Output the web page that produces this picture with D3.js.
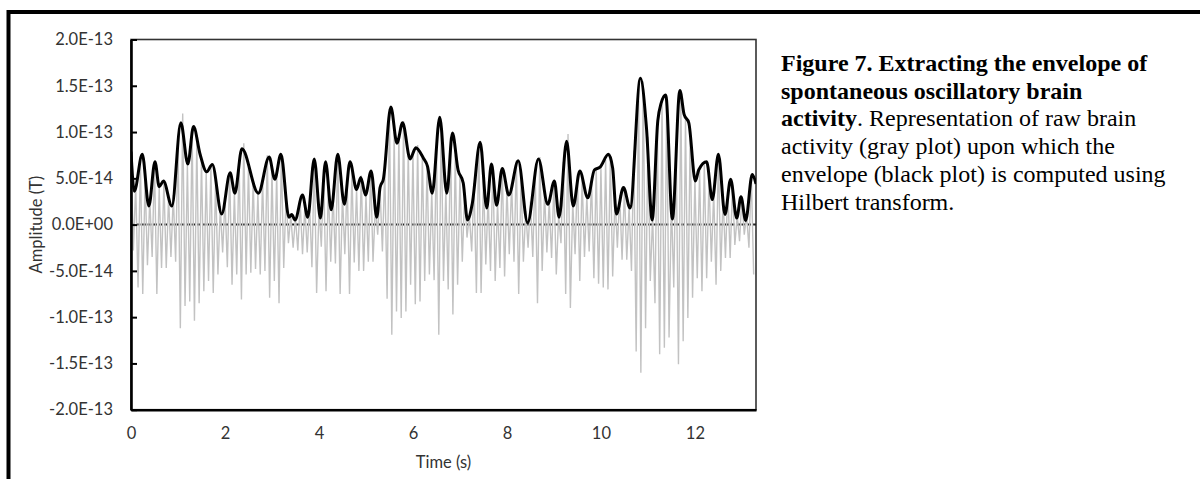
<!DOCTYPE html>
<html>
<head>
<meta charset="utf-8">
<script src="https://cdn.jsdelivr.net/npm/d3@7"></script>
<style>
  html, body { margin: 0; padding: 0; background: #fff; }
  svg { display: block; }
</style>
</head>
<body>
<svg id="chart" width="1200" height="479"></svg>
<script>
// ---------------- DATA (amplitudes in units of 1e-14 T) ----------------
const UNIT = 1e-14;
const SAMPLE_STEP = 0.1;           // one raw oscillation cycle every 0.1 s (≈10 Hz)

// Raw signal: positive peaks (at t = 0, 0.1, 0.2, ...)
const rawPeaks = [
  7.5, 4.3, 6.8, 5.0, 2.8, 6.6, 4.0, 4.6, 3.0, 3.2,
  9.0, 12.0, 6.5, 10.3, 9.0, 7.0, 5.7, 6.4, 4.8, 2.0,
  2.8, 5.6, 3.5, 7.0, 8.8, 6.2, 4.8, 3.4, 4.8, 7.5,
  5.8, 5.5, 7.6, 3.2, 1.0, 0.8, 2.5, 2.0, 2.4, 7.0,
  1.8, 5.5, 4.2, 3.4, 7.6, 3.3, 4.8, 5.8, 3.8, 5.3,
  3.2, 5.8, 2.0, 3.8, 6.0, 12.5, 10.0, 9.5, 11.2, 8.0,
  7.8, 8.6, 7.4, 6.3, 3.6, 8.5, 11.0, 3.8, 9.5, 7.5,
  5.2, 3.5, 1.0, 4.5, 8.8, 5.0, 3.0, 6.5, 2.5, 6.2,
  4.0, 4.5, 6.9, 5.0, 1.5, 2.5, 6.0, 7.3, 3.5, 2.5,
  4.6, 1.0, 6.8, 9.8, 2.5, 5.5, 5.0, 3.0, 4.8, 6.0,
  6.2, 7.0, 7.2, 3.0, 3.2, 3.8, 2.0, 8.0, 14.5, 15.5,
  9.5, 1.0, 11.0, 13.0, 13.8, 2.5, 9.0, 14.5, 11.5, 10.0,
  5.0, 5.8, 6.5, 5.0, 3.5, 7.6, 3.0, 3.8, 4.2, 1.0,
  3.0, 1.0, 5.4
];
// Raw signal: negative troughs (at t = 0.05, 0.15, 0.25, ...)
const rawTroughs = [
  -2.8, -6.8, -7.5, -4.4, -3.5, -7.5, -4.7, -4.7, -3.5, -4.0,
  -11.2, -8.8, -8.3, -10.4, -8.5, -7.2, -6.1, -7.4, -5.4, -3.0,
  -4.6, -6.5, -5.4, -8.1, -5.4, -5.2, -4.8, -5.4, -5.0, -7.9,
  -6.1, -8.5, -4.7, -2.0, -2.5, -2.8, -3.2, -3.0, -4.6, -7.4,
  -2.4, -7.2, -4.0, -4.2, -7.5, -3.2, -7.5, -4.1, -5.0, -5.0,
  -4.0, -4.0, -1.1, -2.9, -8.0, -11.9, -9.4, -10.1, -9.4, -6.5,
  -8.6, -8.3, -6.1, -5.4, -6.0, -11.9, -6.1, -7.0, -9.7, -6.5,
  -4.0, -1.4, -2.9, -7.4, -7.4, -4.3, -5.0, -6.1, -4.7, -5.6,
  -3.2, -4.0, -7.5, -4.0, -2.5, -3.5, -8.5, -5.0, -3.0, -3.6,
  -5.4, -2.0, -7.5, -9.0, -3.2, -6.1, -3.5, -2.9, -5.8, -6.4,
  -6.8, -7.0, -5.6, -2.5, -3.8, -3.8, -5.0, -13.7, -16.0, -11.2,
  -6.1, -8.5, -14.0, -13.3, -12.2, -6.8, -15.1, -12.6, -10.1, -7.9,
  -5.8, -7.2, -5.8, -4.0, -6.5, -5.0, -3.6, -3.6, -2.2, -1.8,
  -1.1, -2.5, -5.4
];

// Envelope (Hilbert) key points: time (s) and amplitude
const envTime = [
  0.00, 0.07, 0.24, 0.38, 0.51, 0.60, 0.69, 0.87, 1.06, 1.21,
  1.33, 1.47, 1.61, 1.73, 1.93, 2.11, 2.21, 2.36, 2.71, 2.94,
  3.06, 3.19, 3.36, 3.42, 3.49, 3.65, 3.76, 3.90, 4.03, 4.14,
  4.26, 4.40, 4.54, 4.66, 4.80, 4.89, 4.99, 5.11, 5.23, 5.30,
  5.37, 5.53, 5.66, 5.78, 5.94, 6.06, 6.22, 6.31, 6.41, 6.57,
  6.72, 6.84, 6.96, 7.07, 7.16, 7.26, 7.43, 7.57, 7.67, 7.78,
  7.90, 8.04, 8.24, 8.44, 8.67, 8.87, 9.01, 9.11, 9.27, 9.41,
  9.55, 9.72, 9.86, 9.98, 10.16, 10.25, 10.33, 10.48, 10.62, 10.84,
  10.97, 11.09, 11.21, 11.28, 11.38, 11.52, 11.68, 11.77, 11.87, 12.01,
  12.08, 12.25, 12.37, 12.50, 12.64, 12.76, 12.89, 12.98, 13.08, 13.22,
  13.30
];
const envValue = [
  7.9, 3.6, 7.6, 2.0, 6.8, 4.1, 4.7, 2.0, 11.0, 6.55,
  10.6, 7.6, 5.7, 6.5, 1.15, 5.6, 3.4, 8.2, 3.4, 7.3,
  4.9, 7.6, 0.8, 1.1, 0.5, 3.2, 0.8, 7.1, 0.7, 6.8,
  1.6, 7.6, 2.2, 6.8, 3.8, 5.1, 3.2, 5.8, 0.8, 4.0,
  4.9, 12.7, 8.8, 11.0, 7.1, 8.3, 7.2, 6.3, 3.4, 11.6,
  3.4, 9.9, 5.9, 4.5, 0.5, 2.2, 8.9, 1.8, 6.55, 2.1,
  6.05, 3.2, 6.9, 0.2, 7.1, 2.2, 4.7, 0.8, 9.0, 2.0,
  5.8, 2.9, 5.9, 6.2, 7.6, 6.1, 1.15, 4.0, 1.8, 15.8,
  10.4, 0.5, 11.2, 13.1, 14.0, 0.6, 14.5, 11.9, 11.0, 4.7,
  5.9, 6.8, 2.7, 7.6, 1.1, 4.9, 0.7, 3.0, 0.45, 5.4,
  4.4
];

const xTicks = [0, 2, 4, 6, 8, 10, 12];
const yTicks = [-2e-13, -1.5e-13, -1e-13, -5e-14, 0, 5e-14, 1e-13, 1.5e-13, 2e-13];

const captionLines = [
  [{t: "Figure 7. Extracting the envelope of", b: true}],
  [{t: "spontaneous oscillatory brain", b: true}],
  [{t: "activity", b: true}, {t: ". Representation of raw brain", b: false}],
  [{t: "activity (gray plot) upon which the", b: false}],
  [{t: "envelope (black plot) is computed using", b: false}],
  [{t: "Hilbert transform.", b: false}]
];

// ---------------- DRAW ----------------
const svg = d3.select("#chart");
const L = 131, R = 756, TOP = 39.5, BOT = 409.7;
const AXIS_FONT = "Lato, 'Open Sans', sans-serif";

const x = d3.scaleLinear().domain([0, 13.3]).range([L, R]);
const y = d3.scaleLinear().domain([-2e-13, 2e-13]).range([BOT, TOP]);

// outer frame (top and left rules)
svg.append("path")
  .attr("d", `M8.5,479 V12 H1200`)
  .attr("fill", "none").attr("stroke", "#000").attr("stroke-width", 4);

svg.append("defs").append("clipPath").attr("id", "clip")
  .append("rect").attr("x", L).attr("y", TOP).attr("width", R - L).attr("height", BOT - TOP);

// plot box border
svg.append("rect")
  .attr("x", L).attr("y", TOP).attr("width", R - L).attr("height", BOT - TOP)
  .attr("fill", "none").attr("stroke", "#333").attr("stroke-width", 1.6);

const plot = svg.append("g").attr("clip-path", "url(#clip)");

// zero line
plot.append("line")
  .attr("x1", L).attr("x2", R).attr("y1", y(0)).attr("y2", y(0))
  .attr("stroke", "#222").attr("stroke-width", 2)
  .attr("stroke-dasharray", "4,1.5");

// raw signal
const raw = [];
rawPeaks.forEach((p, i) => {
  raw.push([i * SAMPLE_STEP, p * UNIT]);
  if (i < rawTroughs.length) raw.push([i * SAMPLE_STEP + SAMPLE_STEP / 2, rawTroughs[i] * UNIT]);
});
plot.append("path")
  .datum(raw)
  .attr("fill", "none")
  .attr("stroke", "#c2c2c2")
  .attr("stroke-width", 1.4)
  .attr("stroke-linejoin", "miter")
  .attr("d", d3.line().x(d => x(d[0])).y(d => y(d[1])));

// envelope
const env = envTime.map((t, i) => [t, envValue[i] * UNIT]);
plot.append("path")
  .datum(env)
  .attr("fill", "none")
  .attr("stroke", "#000")
  .attr("stroke-width", 3)
  .attr("stroke-linejoin", "round")
  .attr("d", d3.line().curve(d3.curveMonotoneX).x(d => x(d[0])).y(d => y(d[1])));

// axes
function fmtE(v) {
  if (v === 0) return "0.0E+00";
  const [m, e] = v.toExponential(1).split("e");
  const sign = e[0] === "-" ? "-" : "+";
  const digits = e.replace(/[+-]/, "").padStart(2, "0");
  return m + "E" + sign + digits;
}

const yAxis = svg.append("g").attr("transform", `translate(${L},0)`)
  .call(d3.axisLeft(y).tickValues(yTicks).tickFormat(fmtE).tickSizeInner(-6).tickSizeOuter(0));
yAxis.select(".domain").attr("stroke", "#000").attr("stroke-width", 2.6);
yAxis.selectAll(".tick line").attr("stroke", "#000").attr("stroke-width", 2);
yAxis.selectAll(".tick text")
  .attr("x", -18)
  .style("font-family", AXIS_FONT).style("font-size", "16.5px").attr("fill", "#333");

const xAxis = svg.append("g").attr("transform", `translate(0,${BOT})`)
  .call(d3.axisBottom(x).tickValues(xTicks).tickFormat(d3.format("d")).tickSize(0).tickPadding(18));
xAxis.select(".domain").attr("stroke", "#000").attr("stroke-width", 2.4);
xAxis.selectAll(".tick text")
  .style("font-family", AXIS_FONT).style("font-size", "16.5px").attr("fill", "#333");

// axis titles
svg.append("text")
  .attr("x", (L + R) / 2).attr("y", 468)
  .attr("text-anchor", "middle")
  .style("font-family", AXIS_FONT).style("font-size", "16.5px").attr("fill", "#333")
  .text("Time (s)");
svg.append("text")
  .attr("transform", `translate(42,${(TOP + BOT) / 2}) rotate(-90)`)
  .attr("text-anchor", "middle")
  .style("font-family", AXIS_FONT).style("font-size", "16.5px").attr("fill", "#333")
  .text("Amplitude (T)");

// caption
const cap = svg.append("text")
  .style("font-family", "'Liberation Serif', 'Times New Roman', serif")
  .style("font-size", "24px").attr("fill", "#000");
captionLines.forEach((line, i) => {
  const t = cap.append("tspan").attr("x", 781).attr("y", 71 + i * 27.7);
  line.forEach((seg, j) => {
    const s = j === 0 ? t : cap.append("tspan");
    s.style("font-weight", seg.b ? "bold" : "normal").text(seg.t);
  });
});
</script>
</body>
</html>
